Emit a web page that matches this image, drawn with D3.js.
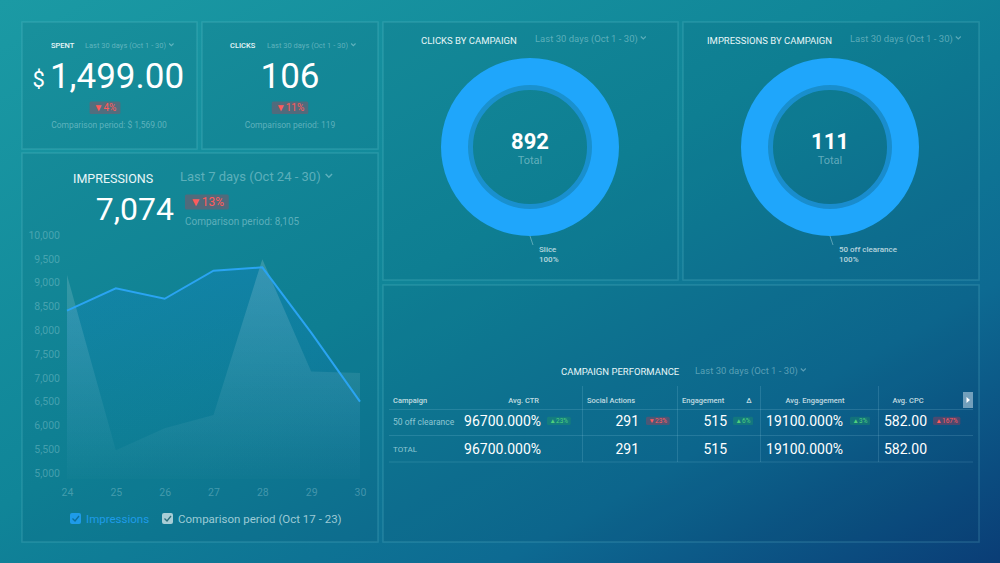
<!DOCTYPE html>
<html><head><meta charset="utf-8">
<script src="https://cdn.jsdelivr.net/npm/d3@7"></script>
<style>
html,body{margin:0;padding:0;background:#0d6f90;}
svg{display:block;font-family:Roboto,"Noto Sans",sans-serif;}
</style></head>
<body>
<svg id="c" width="1000" height="563"></svg>
<script>
// ---------- DATA ----------
const days = [24, 25, 26, 27, 28, 29, 30];
const impressions = [8410, 8880, 8660, 9250, 9320, 7950, 6500];
const comparison = [9160, 5480, 5940, 6220, 9490, 7130, 7100];
const yTicks = [5000, 5500, 6000, 6500, 7000, 7500, 8000, 8500, 9000, 9500, 10000];

const kpiSpent = {title: "SPENT", period: "Last 30 days (Oct 1 - 30)", prefix: "$", value: "1,499.00", delta: "4%", comp: "Comparison period: $ 1,569.00"};
const kpiClicks = {title: "CLICKS", period: "Last 30 days (Oct 1 - 30)", value: "106", delta: "11%", comp: "Comparison period: 119"};
const kpiImpr = {title: "IMPRESSIONS", period: "Last 7 days (Oct 24 - 30)", value: "7,074", delta: "13%", comp: "Comparison period: 8,105"};
const legendLabels = ["Impressions", "Comparison period (Oct 17 - 23)"];

const clicksSlices = [{label: "Slice", value: 892}];
const clicksTotal = "892";
const imprSlices = [{label: "50 off clearance", value: 111}];
const imprTotal = "111";

const tableHeaders = ["Campaign", "Avg. CTR", "Social Actions", "Engagement", "Δ", "Avg. Engagement", "Avg. CPC"];
const rowCampaigns = ["50 off clearance", "TOTAL"];
const avgCTR = ["96700.000%", "96700.000%"];
const socialActions = ["291", "291"];
const engagement = ["515", "515"];
const avgEngagement = ["19100.000%", "19100.000%"];
const avgCPC = ["582.00", "582.00"];
const rowDeltas = [
  [{t: "23%", up: true, good: true}, {t: "23%", up: false, good: false}, {t: "6%", up: true, good: true}, {t: "3%", up: true, good: true}, {t: "167%", up: true, good: false}],
  null
];

// ---------- DRAW ----------
const svg = d3.select("#c");
const defs = svg.append("defs");
const bg = defs.append("linearGradient").attr("id", "bg").attr("x1", 0).attr("y1", 0).attr("x2", 1).attr("y2", 1);
bg.append("stop").attr("offset", 0).attr("stop-color", "#1b9aa4");
bg.append("stop").attr("offset", 0.45).attr("stop-color", "#108598");
bg.append("stop").attr("offset", 0.75).attr("stop-color", "#0d6a92");
bg.append("stop").attr("offset", 1).attr("stop-color", "#0a3d76");
svg.append("rect").attr("width", 1000).attr("height", 563).attr("fill", "url(#bg)");

const panels = [
  [22, 22, 175, 127], [202, 22, 176, 127], [22, 153, 356, 389],
  [383, 22, 295, 258], [683, 22, 296, 258], [383, 285, 596, 257]
];
svg.selectAll("rect.panel").data(panels).join("rect").attr("class", "panel")
  .attr("x", d => d[0]).attr("y", d => d[1]).attr("width", d => d[2]).attr("height", d => d[3])
  .attr("fill", "rgba(0,40,70,0.07)").attr("stroke", "rgba(140,225,235,0.18)").attr("stroke-width", 1.5);

const dim = "rgba(200,235,240,0.42)";
function chevron(g, x, y, s, col) {
  g.append("path").attr("d", `M${x},${y} l${s},${s} l${s},${-s}`).attr("fill", "none")
    .attr("stroke", col).attr("stroke-width", s > 2.5 ? 1.5 : 1.1);
}
function badge(g, x, y, txt, up, good, fs) {
  const col = good ? "#4fd07d" : "#ff5b5b";
  const bgc = good ? "rgba(40,170,90,0.28)" : "rgba(210,50,70,0.32)";
  const t = g.append("text").attr("x", x + fs * 0.4).attr("y", y).attr("font-size", fs).attr("fill", col)
    .text((up ? "▲" : "▼") + txt);
  const w = t.node().getComputedTextLength();
  g.insert("rect", "text").attr("x", x).attr("y", y - fs * 0.95).attr("width", w + fs * 0.8).attr("height", fs * 1.25)
    .attr("rx", 1.5).attr("fill", bgc);
}

// KPI panels
function kpi(k, cx, titleX, periodX) {
  const g = svg.append("g");
  g.append("text").attr("x", titleX).attr("y", 48).attr("font-size", 7.5).attr("fill", "#e8f6f8").attr("font-weight", 500).text(k.title);
  const p = g.append("text").attr("x", periodX).attr("y", 47.5).attr("font-size", 7.5).attr("fill", dim).text(k.period);
  chevron(g, periodX + p.node().getComputedTextLength() + 3, 43.5, 2.2, dim);
  const v = g.append("text").attr("x", cx).attr("y", 88).attr("font-size", 35).attr("fill", "#ffffff").attr("text-anchor", "middle").text(k.value);
  if (k.prefix) {
    const bb = v.node().getBBox();
    g.append("text").attr("x", bb.x - 5).attr("y", 87).attr("font-size", 22).attr("fill", "#fff").attr("text-anchor", "end").text(k.prefix);
  }
  const bgrp = g.append("g");
  const tmp = bgrp.append("text").attr("font-size", 10).text("▼" + k.delta);
  const bw = tmp.node().getComputedTextLength() + 8; tmp.remove();
  badge(bgrp, cx - bw / 2 + (k.prefix ? -12 : 0), 111, k.delta, false, false, 10);
  g.append("text").attr("x", cx + (k.prefix ? -8 : 0)).attr("y", 127.5).attr("font-size", 8.5).attr("fill", dim).attr("text-anchor", "middle").text(k.comp);
}
kpi(kpiSpent, 117, 51, 85);
kpi(kpiClicks, 290, 230, 267);

// Impressions header
{
  const g = svg.append("g");
  g.append("text").attr("x", 73).attr("y", 183).attr("font-size", 12.5).attr("fill", "#e8f6f8").text(kpiImpr.title);
  const p = g.append("text").attr("x", 180).attr("y", 181).attr("font-size", 13).attr("fill", dim).text(kpiImpr.period);
  chevron(g, 180 + p.node().getComputedTextLength() + 5, 174, 3.2, dim);
  g.append("text").attr("x", 174).attr("y", 220).attr("font-size", 32).attr("fill", "#fff").attr("text-anchor", "end").text(kpiImpr.value);
  badge(g, 185, 206, kpiImpr.delta, false, false, 12);
  g.append("text").attr("x", 185).attr("y", 224.5).attr("font-size", 10).attr("fill", dim).text(kpiImpr.comp);
}

// Line chart
const x = d3.scalePoint().domain(days).range([67, 360]);
const y = d3.scaleLinear().domain([5000, 10000]).range([473, 235]);
const gA = defs.append("linearGradient").attr("id", "ga").attr("x1", 0).attr("y1", 0).attr("x2", 0).attr("y2", 1);
gA.append("stop").attr("offset", 0).attr("stop-color", "rgba(255,255,255,0.16)");
gA.append("stop").attr("offset", 1).attr("stop-color", "rgba(255,255,255,0.01)");
const gB = defs.append("linearGradient").attr("id", "gb").attr("x1", 0).attr("y1", 0).attr("x2", 0).attr("y2", 1);
gB.append("stop").attr("offset", 0).attr("stop-color", "rgba(20,130,220,0.24)");
gB.append("stop").attr("offset", 1).attr("stop-color", "rgba(20,130,220,0.0)");

const base = y.range()[0] + 6;
const area = vals => d3.area().x((d, i) => x(days[i])).y0(base).y1(d => y(d))(vals);
svg.append("path").attr("d", area(impressions)).attr("fill", "url(#gb)");
svg.append("path").attr("d", area(comparison)).attr("fill", "url(#ga)");
svg.append("path").attr("d", d3.line().x((d, i) => x(days[i])).y(d => y(d))(impressions))
  .attr("fill", "none").attr("stroke", "#2aa4f2").attr("stroke-width", 2);

const ya = svg.append("g").attr("transform", "translate(63,0)")
  .call(d3.axisLeft(y).tickValues(yTicks).tickFormat(d3.format(",")).tickSize(0));
ya.select(".domain").remove();
ya.selectAll("text").attr("font-size", 10.5).attr("fill", "rgba(200,235,240,0.3)").attr("font-family", "Roboto").attr("dx", 0);
const xa = svg.append("g").attr("transform", "translate(0,486)")
  .call(d3.axisBottom(x).tickSize(0));
xa.select(".domain").remove();
xa.selectAll("text").attr("font-size", 10.5).attr("fill", "rgba(200,235,240,0.3)").attr("font-family", "Roboto");

// Legend
{
  const g = svg.append("g");
  g.append("rect").attr("x", 70).attr("y", 513).attr("width", 11).attr("height", 11).attr("rx", 2).attr("fill", "#1e9be8");
  g.append("path").attr("d", "M72.5,518.5 l2.5,2.5 l4,-5").attr("fill", "none").attr("stroke", "#0d6f9a").attr("stroke-width", 1.3);
  g.append("text").attr("x", 86).attr("y", 523).attr("font-size", 11.5).attr("fill", "#1e9be8").text(legendLabels[0]);
  g.append("rect").attr("x", 162).attr("y", 513).attr("width", 11).attr("height", 11).attr("rx", 2).attr("fill", "rgba(220,235,238,0.75)");
  g.append("path").attr("d", "M164.5,518.5 l2.5,2.5 l4,-5").attr("fill", "none").attr("stroke", "#2b6f7a").attr("stroke-width", 1.3);
  g.append("text").attr("x", 178).attr("y", 523).attr("font-size", 11.5).attr("fill", "rgba(215,238,242,0.72)").text(legendLabels[1]);
}

// Donuts
function donut(slices, total, cx, cy, title, titleX, periodX, periodText) {
  const g = svg.append("g");
  g.append("text").attr("x", titleX).attr("y", 43.5).attr("font-size", 9.5).attr("fill", "#e8f6f8").text(title);
  const p = g.append("text").attr("x", periodX).attr("y", 42).attr("font-size", 9.5).attr("fill", dim).text(periodText);
  chevron(g, periodX + p.node().getComputedTextLength() + 3, 36.5, 2.5, dim);
  const pie = d3.pie().value(d => d.value).sort(null)(slices);
  const gd = g.append("g").attr("transform", `translate(${cx},${cy})`);
  gd.append("circle").attr("r", 61).attr("fill", "none").attr("stroke", "rgba(30,150,225,0.75)").attr("stroke-width", 8);
  gd.selectAll("path").data(pie).join("path").attr("d", d3.arc().innerRadius(62).outerRadius(89)).attr("fill", "#1fa6fb");
  gd.append("text").attr("y", 2).attr("text-anchor", "middle").attr("font-size", 22).attr("font-weight", 700).attr("fill", "#fff").text(total);
  gd.append("text").attr("y", 17).attr("text-anchor", "middle").attr("font-size", 11).attr("fill", "rgba(200,235,240,0.45)").text("Total");
  g.append("path").attr("d", `M${cx},${cy + 89} L${cx + 3},${cy + 98}`).attr("stroke", "rgba(200,235,240,0.5)").attr("stroke-width", 0.8);
  const lab = g.append("text").attr("x", cx + 9).attr("y", cy + 105).attr("font-size", 8).attr("font-weight", 500).attr("fill", "rgba(225,240,243,0.8)");
  lab.append("tspan").text(slices[0].label);
  lab.append("tspan").attr("x", cx + 9).attr("dy", 10).text(Math.round(pie[0].value / d3.sum(slices, d => d.value) * 100) + "%");
}
donut(clicksSlices, clicksTotal, 530, 147, "CLICKS BY CAMPAIGN", 421, 535, "Last 30 days (Oct 1 - 30)");
donut(imprSlices, imprTotal, 830, 147, "IMPRESSIONS BY CAMPAIGN", 707, 850, "Last 30 days (Oct 1 - 30)");

// Table
{
  const g = svg.append("g");
  g.append("text").attr("x", 561).attr("y", 375).attr("font-size", 9.5).attr("fill", "#e8f6f8").text("CAMPAIGN PERFORMANCE");
  const p = g.append("text").attr("x", 695).attr("y", 374).attr("font-size", 9.5).attr("fill", dim).text("Last 30 days (Oct 1 - 30)");
  chevron(g, 695 + p.node().getComputedTextLength() + 3, 368.5, 2.5, dim);
  const line = "rgba(170,225,240,0.16)";
  [[389, 409.5, 973], [389, 435.5, 973], [389, 462, 973]].forEach(l => g.append("line").attr("x1", l[0]).attr("x2", l[2]).attr("y1", l[1]).attr("y2", l[1]).attr("stroke", line));
  [582.5, 677.5, 760.5, 878.5].forEach(xx => g.append("line").attr("x1", xx).attr("x2", xx).attr("y1", 386).attr("y2", 462).attr("stroke", line));
  const hs = 7.5, hc = "rgba(225,240,243,0.85)";
  const hdr = [[393, "start"], [539, "end"], [587, "start"], [682, "start"], [749, "middle"], [815, "middle"], [908, "middle"]];
  tableHeaders.forEach((h, i) => g.append("text").attr("x", hdr[i][0]).attr("y", 403).attr("font-size", hs).attr("fill", hc).attr("text-anchor", hdr[i][1]).attr("font-weight", 500).text(h));
  // scroll button
  g.append("rect").attr("x", 963).attr("y", 392).attr("width", 10).attr("height", 16).attr("fill", "rgba(200,220,235,0.55)");
  g.append("path").attr("d", "M966.5,397 l3.5,3 l-3.5,3 z").attr("fill", "#fff");
  const rowsY = [426, 453.5];
  rowCampaigns.forEach((c, r) => {
    const yy = rowsY[r];
    g.append("text").attr("x", 393).attr("y", yy - 1.5).attr("font-size", r ? 8 : 8.5).attr("fill", "rgba(200,235,240,0.7)").text(c);
    const vs = 14;
    g.append("text").attr("x", 541).attr("y", yy).attr("font-size", vs).attr("fill", "#fff").attr("text-anchor", "end").text(avgCTR[r]);
    g.append("text").attr("x", 639).attr("y", yy).attr("font-size", vs).attr("fill", "#fff").attr("text-anchor", "end").text(socialActions[r]);
    g.append("text").attr("x", 727).attr("y", yy).attr("font-size", vs).attr("fill", "#fff").attr("text-anchor", "end").text(engagement[r]);
    g.append("text").attr("x", 843).attr("y", yy).attr("font-size", vs).attr("fill", "#fff").attr("text-anchor", "end").text(avgEngagement[r]);
    g.append("text").attr("x", 884).attr("y", yy).attr("font-size", vs).attr("fill", "#fff").text(avgCPC[r]);
    if (rowDeltas[r]) {
      const bx = [547, 646, 733, 850, 933];
      rowDeltas[r].forEach((d, i) => badge(g.append("g"), bx[i], yy - 3, d.t, d.up, d.good, 6.5));
    }
  });
}
</script>
</body></html>
